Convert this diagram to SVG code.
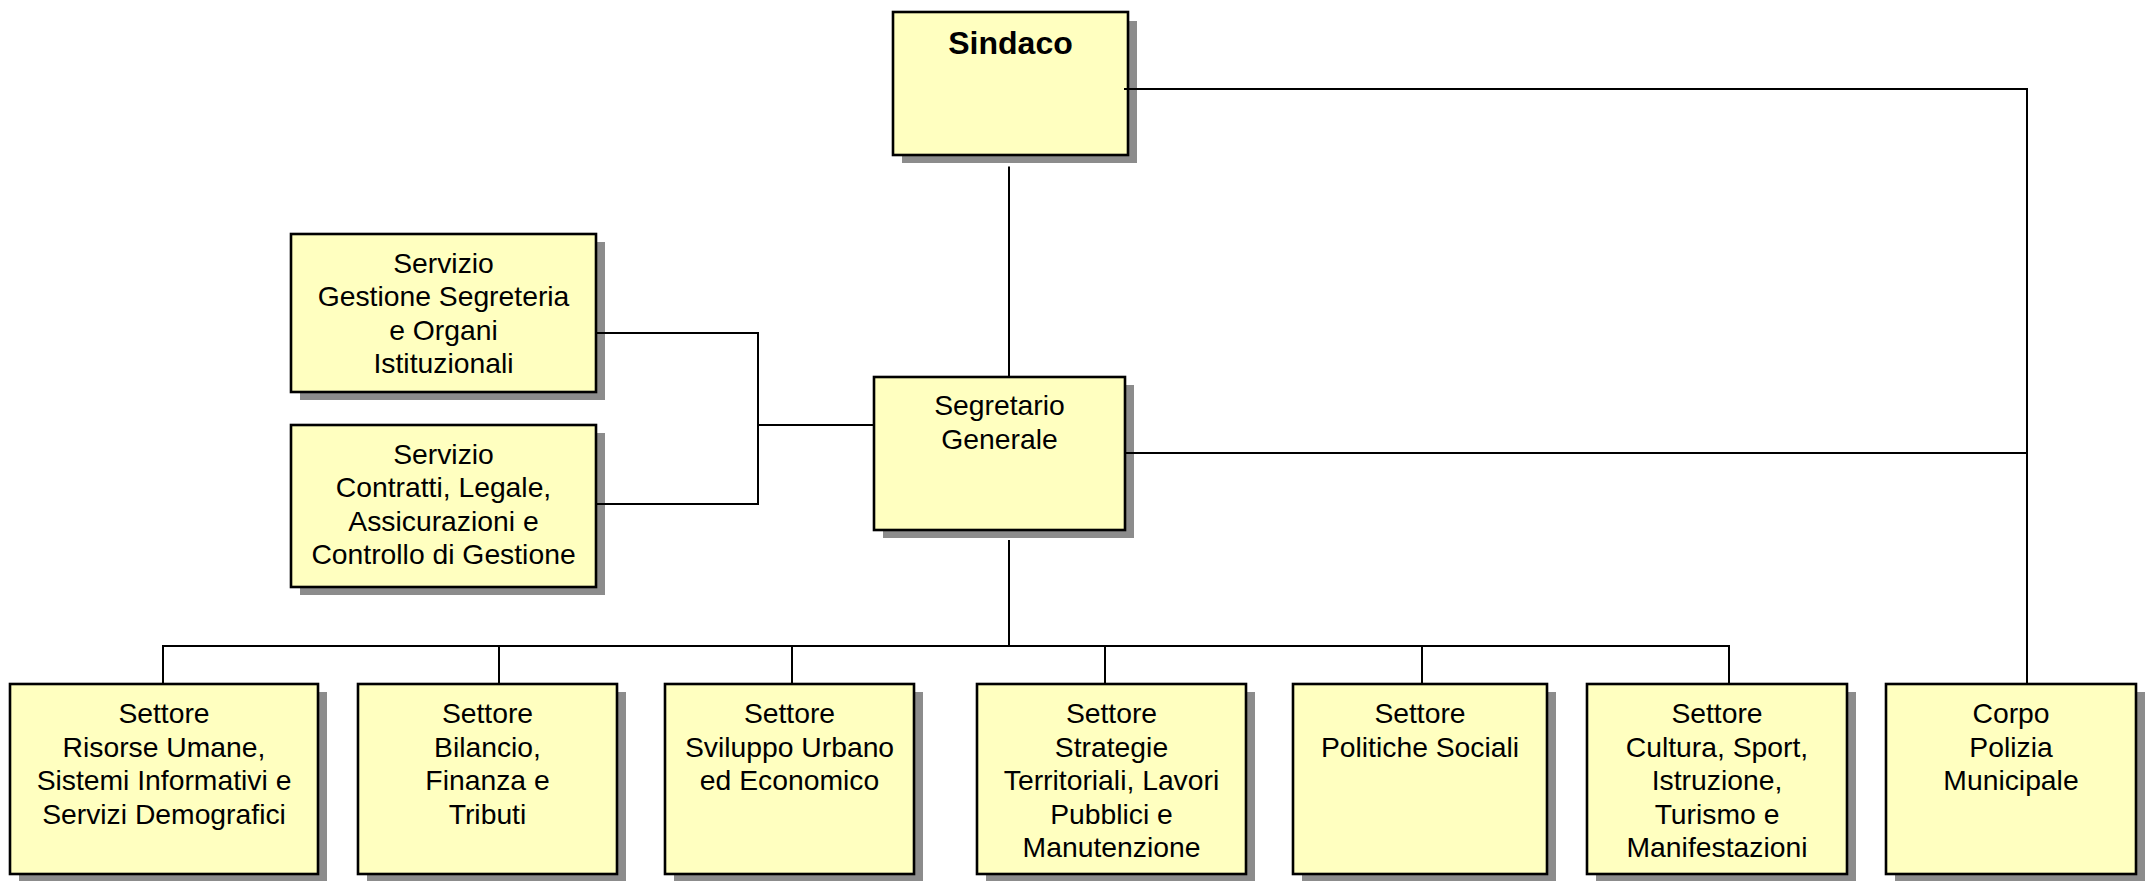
<svg xmlns="http://www.w3.org/2000/svg" width="2149" height="881" viewBox="0 0 2149 881">
<style>
.sh{fill:#8c8c8c;stroke:none}
.bx{fill:#FFFFC0;stroke:#000;stroke-width:2.6}
.t{font-family:"Liberation Sans",Arial,sans-serif;font-size:28.3px;fill:#000;text-anchor:middle}
.tb{font-family:"Liberation Sans",Arial,sans-serif;font-size:32px;font-weight:bold;fill:#000;text-anchor:middle}
.c{fill:none;stroke:#000;stroke-width:2}
</style>
<rect width="2149" height="881" fill="#fff"/>
<g id="sindaco">
<rect class="sh" x="902" y="21" width="235" height="142"/>
<rect class="bx" x="893" y="12" width="235" height="143"/>
<text class="tb" x="1010.5" y="54">Sindaco</text>
</g>
<g id="segretario">
<rect class="sh" x="883" y="385" width="251" height="153"/>
<rect class="bx" x="874" y="377" width="251" height="153"/>
<text class="t" x="999.5" y="415">Segretario</text>
<text class="t" x="999.5" y="448.5">Generale</text>
</g>
<g id="servizio-segreteria">
<rect class="sh" x="300" y="242" width="305" height="158"/>
<rect class="bx" x="291" y="234" width="305" height="158"/>
<text class="t" x="443.5" y="272.7">Servizio</text>
<text class="t" x="443.5" y="306.2">Gestione Segreteria</text>
<text class="t" x="443.5" y="339.7">e Organi</text>
<text class="t" x="443.5" y="373.2">Istituzionali</text>
</g>
<g id="servizio-contratti">
<rect class="sh" x="300" y="433" width="305" height="162"/>
<rect class="bx" x="291" y="425" width="305" height="162"/>
<text class="t" x="443.5" y="463.5">Servizio</text>
<text class="t" x="443.5" y="497">Contratti, Legale,</text>
<text class="t" x="443.5" y="530.5">Assicurazioni e</text>
<text class="t" x="443.5" y="564">Controllo di Gestione</text>
</g>
<g id="settore-risorse">
<rect class="sh" x="19" y="692" width="308" height="190"/>
<rect class="bx" x="10" y="684" width="308" height="190"/>
<text class="t" x="164" y="723">Settore</text>
<text class="t" x="164" y="756.5">Risorse Umane,</text>
<text class="t" x="164" y="790">Sistemi Informativi e</text>
<text class="t" x="164" y="823.5">Servizi Demografici</text>
</g>
<g id="settore-bilancio">
<rect class="sh" x="367" y="692" width="259" height="190"/>
<rect class="bx" x="358" y="684" width="259" height="190"/>
<text class="t" x="487.5" y="723">Settore</text>
<text class="t" x="487.5" y="756.5">Bilancio,</text>
<text class="t" x="487.5" y="790">Finanza e</text>
<text class="t" x="487.5" y="823.5">Tributi</text>
</g>
<g id="settore-sviluppo">
<rect class="sh" x="674" y="692" width="249" height="190"/>
<rect class="bx" x="665" y="684" width="249" height="190"/>
<text class="t" x="789.5" y="723">Settore</text>
<text class="t" x="789.5" y="756.5">Sviluppo Urbano</text>
<text class="t" x="789.5" y="790">ed Economico</text>
</g>
<g id="settore-strategie">
<rect class="sh" x="986" y="692" width="269" height="190"/>
<rect class="bx" x="977" y="684" width="269" height="190"/>
<text class="t" x="1111.5" y="723">Settore</text>
<text class="t" x="1111.5" y="756.5">Strategie</text>
<text class="t" x="1111.5" y="790">Territoriali, Lavori</text>
<text class="t" x="1111.5" y="823.5">Pubblici e</text>
<text class="t" x="1111.5" y="857">Manutenzione</text>
</g>
<g id="settore-politiche">
<rect class="sh" x="1302" y="692" width="254" height="190"/>
<rect class="bx" x="1293" y="684" width="254" height="190"/>
<text class="t" x="1420" y="723">Settore</text>
<text class="t" x="1420" y="756.5">Politiche Sociali</text>
</g>
<g id="settore-cultura">
<rect class="sh" x="1596" y="692" width="260" height="190"/>
<rect class="bx" x="1587" y="684" width="260" height="190"/>
<text class="t" x="1717" y="723">Settore</text>
<text class="t" x="1717" y="756.5">Cultura, Sport,</text>
<text class="t" x="1717" y="790">Istruzione,</text>
<text class="t" x="1717" y="823.5">Turismo e</text>
<text class="t" x="1717" y="857">Manifestazioni</text>
</g>
<g id="corpo-polizia">
<rect class="sh" x="1895" y="692" width="250" height="190"/>
<rect class="bx" x="1886" y="684" width="250" height="190"/>
<text class="t" x="2011" y="723">Corpo</text>
<text class="t" x="2011" y="756.5">Polizia</text>
<text class="t" x="2011" y="790">Municipale</text>
</g>
<g id="connectors">
<path class="c" d="M1009 166.5V377"/>
<path class="c" d="M1124 89H2027V684"/>
<path class="c" d="M1125 453H2027"/>
<path class="c" d="M596 333H758V504H596"/>
<path class="c" d="M758 425H874"/>
<path class="c" d="M1009 540V646"/>
<path class="c" d="M163 684V646H1729V684"/>
<path class="c" d="M499 646V684"/>
<path class="c" d="M792 646V684"/>
<path class="c" d="M1105 646V684"/>
<path class="c" d="M1422 646V684"/>
</g>
</svg>
